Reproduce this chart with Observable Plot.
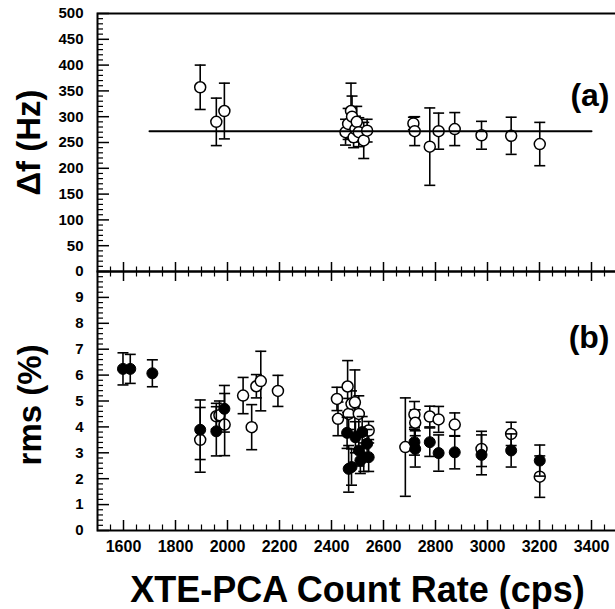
<!DOCTYPE html>
<html><head><meta charset="utf-8">
<script src="https://cdn.jsdelivr.net/npm/d3@7"></script>
<script src="https://cdn.jsdelivr.net/npm/@observablehq/plot@0.6"></script>
<style>
body{margin:0;background:#fff;}
#wrap{position:relative;width:615px;height:609px;overflow:hidden;}
#wrap svg{position:absolute;left:0;top:0;}
</style></head><body><div id="wrap"></div>
<script>
// ---- Panel (a): frequency separation ----
const countA = [1895, 1957, 1988, 2454, 2464, 2475, 2479, 2485, 2492, 2497, 2505, 2524, 2537, 2715, 2720, 2778, 2812, 2874, 2977, 3091, 3201];
const dfA    = [357, 290, 311, 270, 286, 311, 300, 260, 276, 290, 270, 254, 273, 287, 272, 242, 272, 276, 264, 263, 247];
const dfErrA = [43, 46, 54, 25, 30, 54, 40, 20, 25, 30, 28, 35, 22, 12, 28, 75, 35, 32, 27, 36, 42];
const fitCount = [1700, 3400];
const fitDf = 272;

// ---- Panel (b): rms amplitude ----
const countOpen = [1895, 1957, 1969, 1989, 2060, 2093, 2111, 2128, 2194, 2421, 2425, 2462, 2466, 2477, 2490, 2505, 2543, 2684, 2719, 2722, 2778, 2812, 2874, 2977, 3091, 3201];
const rmsOpen   = [3.50, 4.41, 4.45, 4.09, 5.21, 3.99, 5.57, 5.77, 5.39, 5.08, 4.31, 5.56, 4.50, 4.89, 4.95, 4.50, 3.86, 3.22, 4.48, 4.16, 4.40, 4.29, 4.09, 3.15, 3.73, 2.08];
const errOpen   = [1.25, 0.50, 0.55, 1.20, 0.70, 0.87, 0.45, 1.15, 0.60, 0.45, 0.65, 1.00, 0.60, 0.50, 1.25, 0.70, 0.35, 1.90, 0.50, 0.50, 0.40, 0.50, 0.45, 0.68, 0.45, 0.80];
const countFilled = [1598, 1626, 1711, 1895, 1957, 1988, 2460, 2466, 2477, 2492, 2505, 2511, 2518, 2524, 2537, 2543, 2719, 2722, 2778, 2812, 2874, 2977, 3091, 3201];
const rmsFilled   = [6.24, 6.24, 6.07, 3.89, 3.83, 4.70, 3.77, 2.38, 2.45, 3.60, 3.09, 2.70, 3.80, 2.83, 3.35, 2.83, 3.41, 3.15, 3.41, 2.99, 3.02, 2.92, 3.09, 2.70];
const errFilled   = [0.62, 0.56, 0.52, 1.15, 0.95, 0.90, 0.60, 0.90, 0.70, 0.60, 0.60, 0.50, 0.60, 0.55, 0.55, 0.55, 0.50, 0.70, 0.55, 0.70, 0.64, 0.77, 0.64, 0.60];

// ---- Tick labels ----
const xTickLabels = [1600, 1800, 2000, 2200, 2400, 2600, 2800, 3000, 3200, 3400];
const dfTickLabels = [0, 50, 100, 150, 200, 250, 300, 350, 400, 450, 500];
const rmsTickLabels = [0, 1, 2, 3, 4, 5, 6, 7, 8, 9];
const xMinor = d3.range(1550, 3500, 50).filter(v => v % 200 !== 0);
const dfMinor = d3.range(10, 500, 10).filter(v => v % 50 !== 0);
const rmsMinor = d3.range(0.2, 10, 0.2).filter(v => Math.abs(v - Math.round(v)) > 0.01);

const FONT = '"Liberation Sans", Arial, Helvetica, sans-serif';
const W = 615, ML = 97, MR = -2;
const plotW = W - ML - MR;
const panelH = 258;
const cap = {draw(ctx, size) { const w = Math.sqrt(size / Math.PI); ctx.moveTo(-w, 0); ctx.lineTo(w, 0); }};

function rows(xs, ys, es) { return xs.map((x, i) => ({x, y: ys[i], lo: ys[i] - es[i], hi: ys[i] + es[i]})); }
function errMarks(data) {
  return [
    Plot.ruleX(data, {x: "x", y1: "lo", y2: "hi", stroke: "black", strokeWidth: 1.6}),
    Plot.dot(data, {x: "x", y: "lo", symbol: cap, r: 5.5, fill: "none", stroke: "black", strokeWidth: 1.6}),
    Plot.dot(data, {x: "x", y: "hi", symbol: cap, r: 5.5, fill: "none", stroke: "black", strokeWidth: 1.6})
  ];
}
const textStyle = {fontFamily: FONT, fontWeight: "bold", fill: "black"};

const rowsA = rows(countA, dfA, dfErrA);
const fitRows = fitCount.map(x => ({x, y: fitDf}));

const topPlot = Plot.plot({
  width: W, height: 273,
  marginLeft: ML, marginRight: MR, marginTop: 13, marginBottom: 2,
  style: {background: "transparent", fontFamily: FONT, overflow: "visible"},
  x: {domain: [1500, 3500], axis: null},
  y: {domain: [0, 500], axis: null},
  marks: [
    ...errMarks(rowsA),
    Plot.dot(rowsA, {x: "x", y: "y", r: 5.5, fill: "white", stroke: "black", strokeWidth: 1.5}),
    Plot.line(fitRows, {x: "x", y: "y", stroke: "black", strokeWidth: 2}),
    Plot.tickY(dfTickLabels, {y: d => d, insetRight: plotW - 12, strokeWidth: 1.5}),
    Plot.tickY(dfMinor, {y: d => d, insetRight: plotW - 6, strokeWidth: 1.2}),
    Plot.tickX(xTickLabels, {x: d => d, insetTop: panelH - 9, strokeWidth: 1.5}),
    Plot.tickX(xMinor, {x: d => d, insetTop: panelH - 4.5, strokeWidth: 1.2}),
    Plot.frame({stroke: "black", strokeWidth: 2}),
    Plot.axisY(dfTickLabels, {tickSize: 0, tickPadding: 14, fontSize: 15, ...textStyle, label: null}),
    Plot.text(["Δf (Hz)"], {frameAnchor: "left", dx: -68, rotate: -90, textAnchor: "middle", lineAnchor: "middle", fontSize: 33, ...textStyle}),
    Plot.text(["(a)"], {frameAnchor: "top-right", dx: -8, dy: 82, textAnchor: "end", lineAnchor: "middle", fontSize: 32, ...textStyle})
  ]
});

const rowsOpen = rows(countOpen, rmsOpen, errOpen);
const rowsFilled = rows(countFilled, rmsFilled, errFilled);

const bottomPlot = Plot.plot({
  width: W, height: 609,
  marginLeft: ML, marginRight: MR, marginTop: 271, marginBottom: 79,
  style: {background: "transparent", fontFamily: FONT, overflow: "visible"},
  x: {domain: [1500, 3500], axis: null},
  y: {domain: [0, 10], axis: null},
  marks: [
    ...errMarks(rowsOpen),
    Plot.dot(rowsOpen, {x: "x", y: "y", r: 5.5, fill: "white", stroke: "black", strokeWidth: 1.5}),
    ...errMarks(rowsFilled),
    Plot.dot(rowsFilled, {x: "x", y: "y", r: 5.5, fill: "black", stroke: "black", strokeWidth: 1}),
    Plot.tickY(rmsTickLabels, {y: d => d, insetRight: plotW - 12, strokeWidth: 1.5}),
    Plot.tickY(rmsMinor, {y: d => d, insetRight: plotW - 6, strokeWidth: 1.2}),
    Plot.tickX(xTickLabels, {x: d => d, insetTop: panelH - 9, strokeWidth: 1.5}),
    Plot.tickX(xMinor, {x: d => d, insetTop: panelH - 4.5, strokeWidth: 1.2}),
    Plot.tickX(xTickLabels, {x: d => d, insetBottom: panelH - 9, strokeWidth: 1.5}),
    Plot.tickX(xMinor, {x: d => d, insetBottom: panelH - 4.5, strokeWidth: 1.2}),
    Plot.frame({stroke: "black", strokeWidth: 2}),
    Plot.axisY(rmsTickLabels, {tickSize: 0, tickPadding: 14, fontSize: 15, ...textStyle, label: null}),
    Plot.axisX(xTickLabels, {tickSize: 0, tickPadding: 10, fontSize: 16, tickFormat: d => String(d), ...textStyle, label: null}),
    Plot.text(["rms (%)"], {y: () => 4.85, frameAnchor: "left", dx: -67, rotate: -90, textAnchor: "middle", lineAnchor: "middle", fontSize: 33, ...textStyle}),
    Plot.text(["(b)"], {frameAnchor: "top-right", dx: -8, dy: 66, textAnchor: "end", lineAnchor: "middle", fontSize: 32, ...textStyle}),
    Plot.text(["XTE-PCA Count Rate (cps)"], {frameAnchor: "bottom", dy: 60, lineAnchor: "middle", fontSize: 36, ...textStyle})
  ]
});

const wrap = document.getElementById("wrap");
wrap.appendChild(topPlot);
wrap.appendChild(bottomPlot);
</script>
</body></html>
